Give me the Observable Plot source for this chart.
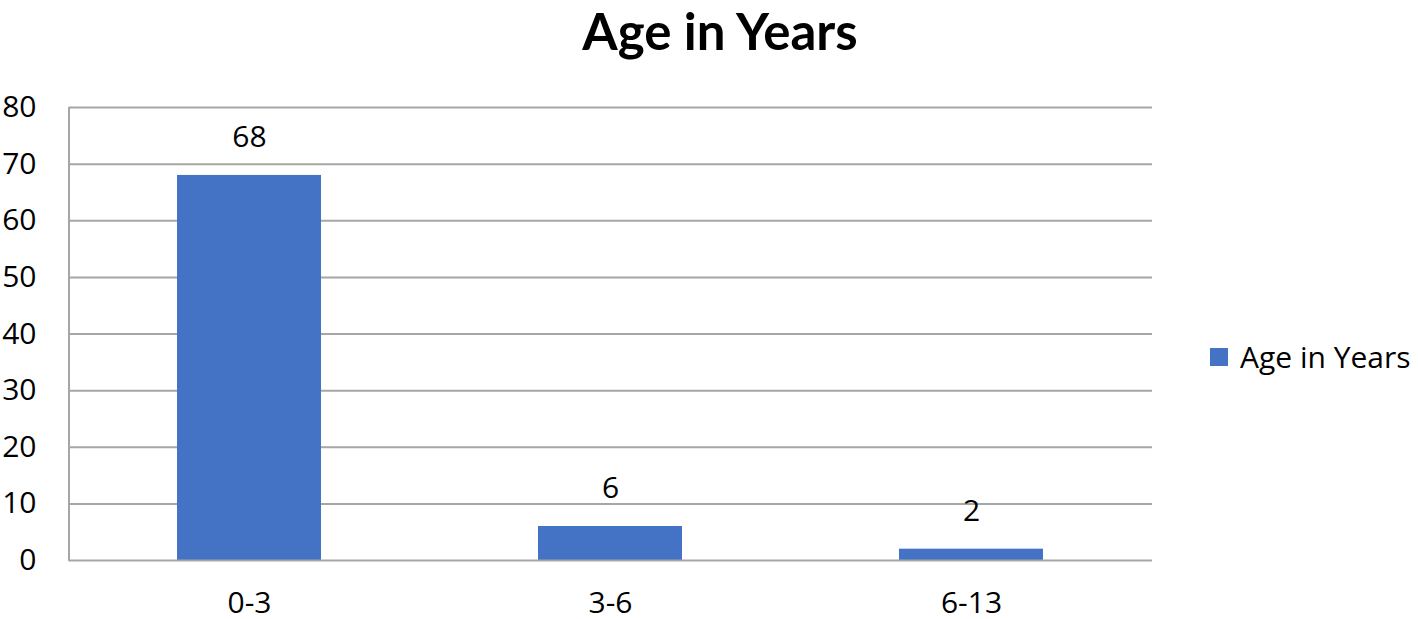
<!DOCTYPE html>
<html>
<head>
<meta charset="utf-8">
<script src="https://cdn.jsdelivr.net/npm/d3@7"></script>
<script src="https://cdn.jsdelivr.net/npm/@observablehq/plot@0.6"></script>
<style>
  html, body { margin: 0; padding: 0; background: #fff; }
  body { width: 1418px; height: 619px; position: relative; overflow: hidden; font-family: "Open Sans", sans-serif; }
  #title { position: absolute; left: 0; top: 0; width: 1440px; text-align: center; font-family: Lato, "Open Sans", sans-serif; font-weight: 700; font-size: 51px; line-height: normal; color: #000; }
  #legend { position: absolute; left: 1210px; top: 336px; display: flex; align-items: center; font-size: 30px; line-height: 42px; color: #000; white-space: nowrap; }
  #legend .sw { width: 18px; height: 18px; background: #4472C4; margin-right: 12px; }
  #chart { position: absolute; left: 0; top: 0; }
</style>
</head>
<body>
<div id="chart"></div>
<div id="title">Age in Years</div>
<div id="legend"><div class="sw"></div><span>Age in Years</span></div>
<script>
const categories = ["0-3", "3-6", "6-13"];
const values = [68, 6, 2];
const yTicks = [0, 10, 20, 30, 40, 50, 60, 70, 80];

const data = categories.map((c, i) => ({category: c, value: values[i]}));

const chart = Plot.plot({
  width: 1418,
  height: 619,
  marginTop: 107,
  marginBottom: 59,
  marginLeft: 69,
  marginRight: 266,
  style: {fontFamily: "Open Sans, sans-serif", fontSize: "30px", color: "#000", background: "transparent", overflow: "visible"},
  x: {domain: categories, paddingInner: 0.6, paddingOuter: 0.3, label: null, tickSize: 0, tickPadding: 31},
  y: {domain: [0, 80], ticks: yTicks, label: null, tickSize: 0, tickPadding: 33},
  marks: [
    Plot.ruleY(yTicks.filter(d => d > 0), {stroke: "#a6a6a6", strokeWidth: 2}),
    Plot.barY(data, {x: "category", y: "value", fill: "#4472C4"}),
    Plot.ruleY([0], {stroke: "#a6a6a6", strokeWidth: 2}),
    Plot.text(data, {x: "category", y: "value", text: d => String(d.value), dy: -38, fontSize: 30, fill: "#000"})
  ]
});
document.getElementById("chart").appendChild(chart);
const svg = d3.select(chart);
const yScale = chart.scale("y");
svg.append("line")
  .attr("x1", 69).attr("x2", 69)
  .attr("y1", yScale.apply(80)).attr("y2", yScale.apply(0) + 1)
  .attr("stroke", "#a6a6a6").attr("stroke-width", 2);
</script>
</body>
</html>
